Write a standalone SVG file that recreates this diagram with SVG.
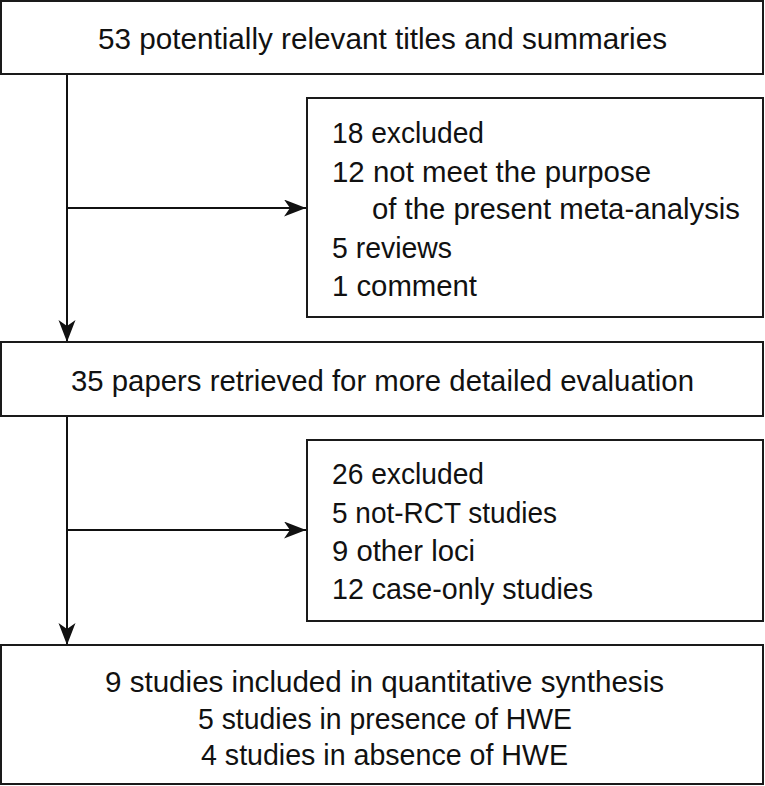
<svg xmlns="http://www.w3.org/2000/svg" width="765" height="786" viewBox="0 0 765 786">
<style>
.box{fill:#fff;stroke:#1a1a1a;stroke-width:2}
.t{font-family:"Liberation Sans",Arial,sans-serif;font-size:30px;fill:#111}
.ln{stroke:#111;stroke-width:2;fill:none}
</style>
<defs>
<marker id="ah" markerUnits="userSpaceOnUse" markerWidth="24" markerHeight="18" refX="22" refY="8.5" orient="auto">
<path d="M0,0 L22,8.5 L0,17 L6,8.5 Z" fill="#111"/>
</marker>
</defs>
<rect width="765" height="786" fill="#fff"/>
<g id="connectors">
<path class="ln" d="M67,74 V342" marker-end="url(#ah)"/>
<path class="ln" d="M67,208 H306" marker-end="url(#ah)"/>
<path class="ln" d="M67,416 V645" marker-end="url(#ah)"/>
<path class="ln" d="M67,530 H306" marker-end="url(#ah)"/>
</g>
<g id="n1">
<rect class="box" x="1" y="1" width="762" height="73"/>
<text class="t" x="98" y="49" textLength="569" lengthAdjust="spacingAndGlyphs">53 potentially relevant titles and summaries</text>
</g>
<g id="n2">
<rect class="box" x="307" y="98" width="456" height="219"/>
<text class="t" x="332" y="143" textLength="152" lengthAdjust="spacingAndGlyphs">18 excluded</text>
<text class="t" x="332" y="182" textLength="319" lengthAdjust="spacingAndGlyphs">12 not meet the purpose</text>
<text class="t" x="372" y="219" textLength="368" lengthAdjust="spacingAndGlyphs">of the present meta-analysis</text>
<text class="t" x="332" y="258" textLength="120" lengthAdjust="spacingAndGlyphs">5 reviews</text>
<text class="t" x="332" y="296" textLength="145" lengthAdjust="spacingAndGlyphs">1 comment</text>
</g>
<g id="n3">
<rect class="box" x="1" y="342" width="762" height="74"/>
<text class="t" x="71" y="391" textLength="623" lengthAdjust="spacingAndGlyphs">35 papers retrieved for more detailed evaluation</text>
</g>
<g id="n4">
<rect class="box" x="307" y="440" width="456" height="181"/>
<text class="t" x="332" y="484" textLength="152" lengthAdjust="spacingAndGlyphs">26 excluded</text>
<text class="t" x="332" y="523" textLength="225" lengthAdjust="spacingAndGlyphs">5 not-RCT studies</text>
<text class="t" x="332" y="561" textLength="143" lengthAdjust="spacingAndGlyphs">9 other loci</text>
<text class="t" x="332" y="599" textLength="261" lengthAdjust="spacingAndGlyphs">12 case-only studies</text>
</g>
<g id="n5">
<rect class="box" x="1" y="645" width="762" height="139"/>
<text class="t" x="105" y="692" textLength="559" lengthAdjust="spacingAndGlyphs">9 studies included in quantitative synthesis</text>
<text class="t" x="198" y="729" textLength="374" lengthAdjust="spacingAndGlyphs">5 studies in presence of HWE</text>
<text class="t" x="201" y="765" textLength="367" lengthAdjust="spacingAndGlyphs">4 studies in absence of HWE</text>
</g>
</svg>
